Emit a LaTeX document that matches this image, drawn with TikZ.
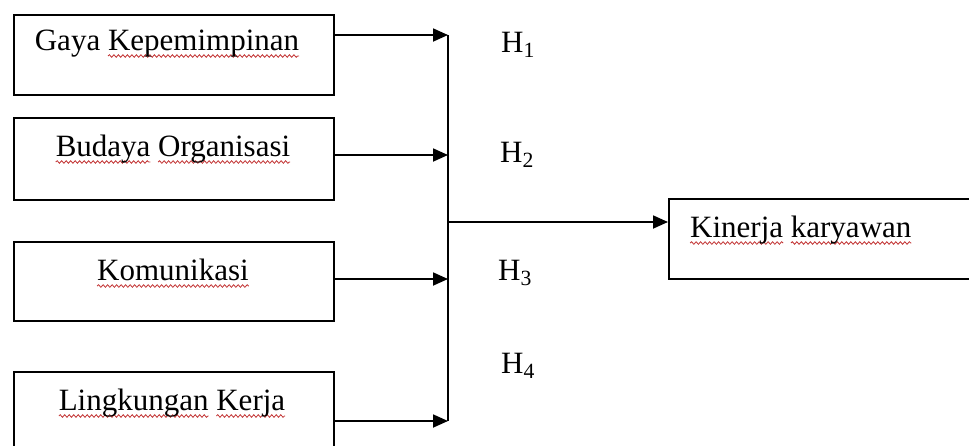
\documentclass[tikz,border=0pt]{standalone}
\usepackage{fontspec}
\setmainfont{Liberation Serif}
\usetikzlibrary{arrows.meta,decorations.pathmorphing}
\tikzset{
  squigline/.style={draw=red!70!black!80!white, line width=0.8pt, decorate,
    decoration={snake, amplitude=1.3pt, segment length=4.5pt}},
  box/.style={draw, line width=1.6pt, minimum width=320pt, minimum height=80pt,
    inner sep=0pt, anchor=north west},
  lbl/.style={font=\fontsize{31pt}{36pt}\selectfont, inner sep=0pt, anchor=base},
  arr/.style={line width=1.8pt, -{Triangle[length=15pt,width=13pt]}},
  plain/.style={line width=1.8pt}
}
\newsavebox\sqbox
\newlength\sqlen
\newcommand{\squig}[1]{\sbox\sqbox{#1}\setlength\sqlen{\wd\sqbox}\rlap{\tikz[overlay,baseline=0pt]\path[squigline] (0pt,-6pt) -- (\sqlen,-6pt);}\usebox\sqbox}
\begin{document}
\begin{tikzpicture}[x=1pt,y=-1pt]
\useasboundingbox (0,0) rectangle (969,445);
\clip (0,0) rectangle (969,445);
% boxes
\node[box] (b1) at (13,14) {};
\node[box, minimum height=82pt] (b2) at (13,117) {};
\node[box, minimum height=79pt] (b3) at (13,241) {};
\node[box] (b4) at (13,371) {};
\node[box, minimum width=340pt] (k) at (668,198) {};
% texts
\node[lbl] (t1) at (167,50) {Gaya \squig{Kepemimpinan}};
\node[lbl] (t2) at (173,156) {\squig{Budaya} \squig{Organisasi}};
\node[lbl] (t3) at (173,280) {\squig{Komunikasi}};
\node[lbl] (t4) at (172,410) {\squig{Lingkungan} \squig{Kerja}};
\node[lbl, anchor=base west] (t5) at (690,237) {\squig{Kinerja} \squig{karyawan}};
% hypothesis labels
\node[lbl, anchor=base west] (h1) at (501,52) {H\textsubscript{1}};
\node[lbl, anchor=base west] (h2) at (500,162) {H\textsubscript{2}};
\node[lbl, anchor=base west] (h3) at (498,280) {H\textsubscript{3}};
\node[lbl, anchor=base west] (h4) at (501,373) {H\textsubscript{4}};
% junctions
\coordinate (j1) at (448,35);
\coordinate (j2) at (448,155);
\coordinate (j3) at (448,279);
\coordinate (j4) at (448,421);
\coordinate (jm) at (448,222);
% connectors
\draw[arr] (b1.east |- j1) -- (j1);
\draw[arr] (b2.east |- j2) -- (j2);
\draw[arr] (b3.east |- j3) -- (j3);
\draw[arr] (b4.east |- j4) -- (j4);
\draw[plain] (j1) -- (j4);
\draw[arr] (jm) -- (k.west |- jm);
\end{tikzpicture}
\end{document}
